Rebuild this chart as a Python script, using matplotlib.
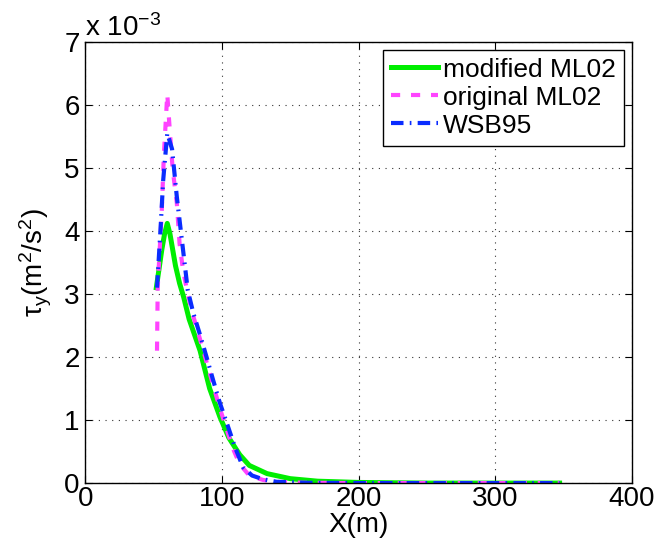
import matplotlib.pyplot as plt
import numpy as np

plt.rcParams['font.family'] = ['Liberation Sans', 'DejaVu Sans']
plt.rcParams['mathtext.fontset'] = 'custom'
plt.rcParams['mathtext.rm'] = 'Liberation Sans'
plt.rcParams['mathtext.it'] = 'Liberation Sans'

# tau_y along X, in units of 1e-3 m^2/s^2
x_mod = [52, 54, 56, 58, 60, 62, 64, 66, 69, 72, 76, 84, 91, 98.5, 105, 113, 120, 133,
         150, 170, 200, 250, 300, 347]
y_mod = [3.1, 3.4, 3.7, 3.95, 4.12, 3.95, 3.7, 3.45, 3.17, 2.95, 2.6, 2.1, 1.5, 1.05,
         0.72, 0.45, 0.28, 0.15, 0.07, 0.03, 0.01, 0.0, 0.0, 0.0]

x_orig = [52.5, 53, 56, 57.5, 60, 62, 64, 67, 69, 71.5, 75, 79, 84, 89, 94, 98, 103,
          108, 113, 120, 130, 140, 160, 200, 250, 300, 347]
y_orig = [2.1, 3.1, 4.33, 5.2, 6.17, 5.55, 4.97, 4.44, 3.8, 3.38, 3.0, 2.65, 2.28,
          1.9, 1.52, 1.22, 0.88, 0.55, 0.3, 0.12, 0.05, 0.02, 0.005, 0.0, 0.0, 0.0, 0.0]

x_wsb = [52.5, 55, 57, 60, 63.5, 67, 71, 75, 79, 84, 89, 93.6, 98.5, 103.6, 109.5,
         115.5, 122, 130, 140, 160, 200, 250, 300, 347]
y_wsb = [3.1, 4.0, 4.8, 5.55, 5.3, 4.54, 3.8, 3.06, 2.7, 2.35, 1.98, 1.63, 1.27, 0.95,
         0.57, 0.25, 0.12, 0.06, 0.02, 0.005, 0.0, 0.0, 0.0, 0.0]

fs = 20

fig = plt.figure(figsize=(6.66, 5.44), dpi=100)
ax = fig.add_axes([0.128, 0.112, 0.821, 0.811])

ax.plot(x_mod, y_mod, color='#00ee00', lw=3.6, label='modified ML02')
ax.plot(x_orig, y_orig, color='#ff44ff', lw=3.0, ls=(0, (2.2, 2.6)), label='original ML02')
ax.plot(x_wsb, y_wsb, color='#0a2cff', lw=3.0, ls=(0, (3, 1.5, 0.4, 1.5)), label='WSB95')

ax.set_xlim(0, 400)
ax.set_ylim(0, 7)
ax.set_xticks(np.arange(0, 401, 100))
ax.set_yticks(np.arange(0, 8, 1))
ax.grid(True, ls=(0, (1, 5)), color='#333333', lw=0.8)
ax.tick_params(direction='in', top=True, right=True, length=5, width=0.8,
               labelsize=fs)
ax.tick_params(axis='x', pad=2)
ax.tick_params(axis='y', pad=4)
for s in ax.spines.values():
    s.set_linewidth(1.0)

ax.set_xlabel('X(m)', fontsize=fs, labelpad=0)
ax.set_ylabel(r'τ$_\mathrm{y}$(m$^\mathrm{2}$/s$^\mathrm{2}$)', fontsize=fs, labelpad=7)
ax.text(0.0, 1.0, r'x 10$^{-3}$', transform=ax.transAxes, fontsize=fs,
        ha='left', va='bottom')

leg = ax.legend(loc='upper right', fontsize=19, fancybox=False, edgecolor='k',
                framealpha=1, handlelength=1.8, handletextpad=0.2,
                borderpad=0.3, labelspacing=0.15, borderaxespad=0.3)
leg.get_frame().set_linewidth(1.0)

fig.savefig('out.png', dpi=100)
